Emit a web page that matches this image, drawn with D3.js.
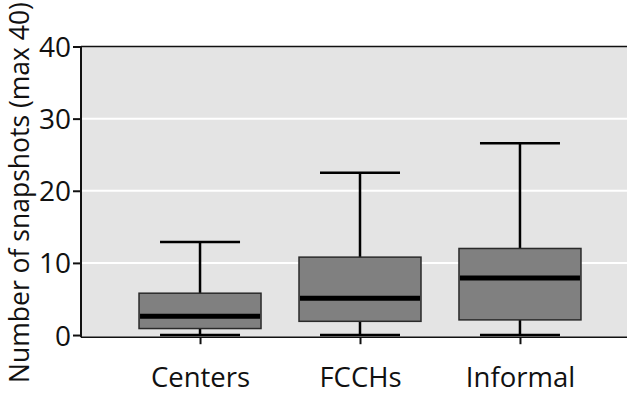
<!DOCTYPE html>
<html>
<head>
<meta charset="utf-8">
<script src="https://cdn.jsdelivr.net/npm/d3@7"></script>
<style>
  html, body { margin: 0; padding: 0; background: #fff; }
  svg { display: block; }
  text { font-family: "Open Sans", "DejaVu Sans", sans-serif; fill: #111; }
</style>
</head>
<body>
<svg id="chart" width="627" height="394"></svg>
<script>
// Snapshot counts by care type (box-and-whisker summary)
const categories = ["Centers", "FCCHs", "Informal"];
const whiskerLow = [0, 0, 0];
const q1 = [0.9, 1.9, 2.1];
const median = [2.6, 5.1, 7.9];
const q3 = [5.8, 10.8, 12.0];
const whiskerHigh = [12.9, 22.5, 26.6];
const yTicks = [0, 10, 20, 30, 40];
const yTitle = "Number of snapshots (max 40)";

const W = 627, H = 394;
const padLeft = 81, padTop = 46.5, padBottom = 337.2, padRight = 639;

const svg = d3.select("#chart");

const x = d3.scalePoint().domain(categories).range([padLeft, padRight]).padding(0.744);
const y = d3.scaleLinear().domain([-0.3, 40]).range([padBottom, padTop]);

// panel background
svg.append("rect")
  .attr("x", padLeft).attr("y", padTop)
  .attr("width", W - padLeft).attr("height", padBottom - padTop)
  .attr("fill", "#e4e4e4");

// horizontal gridlines
svg.append("g").selectAll("line")
  .data(yTicks.filter(d => d > 0 && d < 40))
  .join("line")
  .attr("x1", padLeft).attr("x2", W)
  .attr("y1", d => y(d)).attr("y2", d => y(d))
  .attr("stroke", "#fff").attr("stroke-width", 2);

// panel top border
svg.append("line")
  .attr("x1", padLeft).attr("x2", W)
  .attr("y1", padTop).attr("y2", padTop)
  .attr("stroke", "#111").attr("stroke-width", 1.5);

const boxW = 122, capW = 80;
const rows = categories.map((c, i) => ({
  c, lo: whiskerLow[i], q1: q1[i], med: median[i], q3: q3[i], hi: whiskerHigh[i]
}));

const g = svg.append("g").selectAll("g").data(rows).join("g");

// whiskers
g.append("line")
  .attr("x1", d => x(d.c)).attr("x2", d => x(d.c))
  .attr("y1", d => y(d.q3)).attr("y2", d => y(d.hi))
  .attr("stroke", "#000").attr("stroke-width", 2.5);
g.append("line")
  .attr("x1", d => x(d.c)).attr("x2", d => x(d.c))
  .attr("y1", d => y(d.q1)).attr("y2", d => y(d.lo))
  .attr("stroke", "#000").attr("stroke-width", 2.5);
// caps
g.append("line")
  .attr("x1", d => x(d.c) - capW / 2).attr("x2", d => x(d.c) + capW / 2)
  .attr("y1", d => y(d.hi)).attr("y2", d => y(d.hi))
  .attr("stroke", "#000").attr("stroke-width", 2.5);
g.append("line")
  .attr("x1", d => x(d.c) - capW / 2).attr("x2", d => x(d.c) + capW / 2)
  .attr("y1", d => y(d.lo)).attr("y2", d => y(d.lo))
  .attr("stroke", "#000").attr("stroke-width", 2.5);
// boxes
g.append("rect")
  .attr("x", d => x(d.c) - boxW / 2).attr("width", boxW)
  .attr("y", d => y(d.q3)).attr("height", d => y(d.q1) - y(d.q3))
  .attr("fill", "#808080").attr("stroke", "#2a2a2a").attr("stroke-width", 1.5);
// medians
g.append("line")
  .attr("x1", d => x(d.c) - boxW / 2 + 1).attr("x2", d => x(d.c) + boxW / 2 - 1)
  .attr("y1", d => y(d.med)).attr("y2", d => y(d.med))
  .attr("stroke", "#000").attr("stroke-width", 5);

// y axis
const yAxis = svg.append("g")
  .attr("transform", `translate(${padLeft},0)`)
  .call(d3.axisLeft(y).tickValues(yTicks).tickSize(8).tickPadding(2).tickSizeOuter(0));
yAxis.select(".domain").attr("d", `M0,${padTop}V${padBottom}`).attr("stroke", "#111").attr("stroke-width", 2);
yAxis.selectAll(".tick line").attr("stroke", "#111").attr("stroke-width", 2);
yAxis.selectAll(".tick text").attr("font-size", 28).attr("font-family", "'Open Sans', sans-serif")
  .attr("fill", "#111").attr("dy", "0.36em");

// x axis
const xAxis = svg.append("g")
  .attr("transform", `translate(0,${padBottom})`)
  .call(d3.axisBottom(x).tickSize(7).tickPadding(23).tickSizeOuter(0));
xAxis.select(".domain").attr("d", `M${padLeft},0H${W}`).attr("stroke", "#111").attr("stroke-width", 1.5);
xAxis.selectAll(".tick line").attr("stroke", "#111").attr("stroke-width", 2);
xAxis.selectAll(".tick text").attr("font-size", 27.5).attr("font-family", "'Open Sans', sans-serif")
  .attr("fill", "#111");

// y axis title
svg.append("text")
  .attr("transform", `translate(29,${385 / 2}) rotate(-90)`)
  .attr("text-anchor", "middle")
  .attr("font-size", 26.5)
  .text(yTitle);
</script>
</body>
</html>
